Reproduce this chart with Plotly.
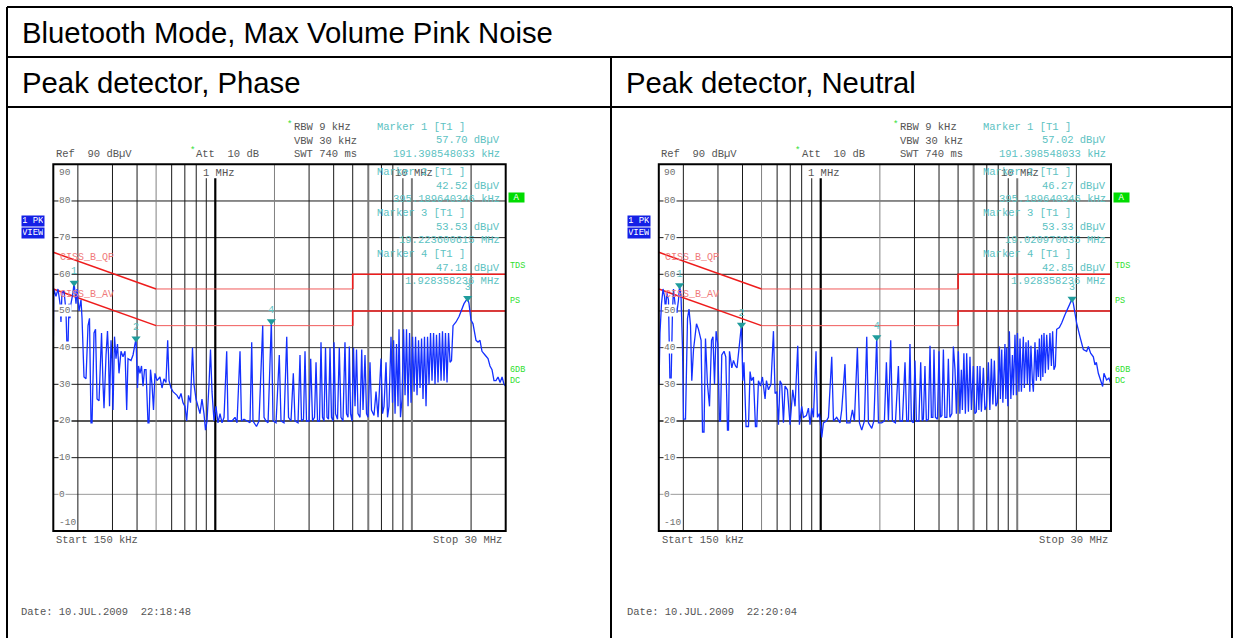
import math
import plotly.graph_objects as go

W, H = 1235, 638
MONO = "Liberation Mono, Courier New, monospace"
SANS = "Liberation Sans, Arial, sans-serif"

# ---------------------------------------------------------------- data
title_text = "Bluetooth Mode, Max Volume Pink Noise"
panel_titles = ["Peak detector, Phase", "Peak detector, Neutral"]
panel_dates = ["Date: 10.JUL.2009\u00a0\u00a022:18:48", "Date: 10.JUL.2009\u00a0\u00a022:20:04"]

# Phase line, peak detector (MHz, dBuV)
phase_freq_mhz = [
    0.1500, 0.1508, 0.1548, 0.1585, 0.1623, 0.1641, 0.1660, 0.1700, 0.1740, 0.1761,
    0.1782, 0.1803, 0.1824, 0.1845, 0.1889, 0.1914, 0.1957, 0.1980, 0.2027, 0.2075,
    0.2100, 0.2149, 0.2200, 0.2253, 0.2292, 0.2333, 0.2361, 0.2417, 0.2460, 0.2504,
    0.2563, 0.2639, 0.2685, 0.2717, 0.2782, 0.2830, 0.2864, 0.2898, 0.2949, 0.2984,
    0.3019, 0.3072, 0.3126, 0.3182, 0.3238, 0.3315, 0.3394, 0.3475, 0.3543, 0.3598,
    0.3727, 0.3816, 0.3952, 0.4022, 0.4069, 0.4140, 0.4215, 0.4290, 0.4366, 0.4442,
    0.4547, 0.4600, 0.4682, 0.4765, 0.4850, 0.4935, 0.5052, 0.5230, 0.5358, 0.5484,
    0.5614, 0.5727, 0.5815, 0.5953, 0.6096, 0.6239, 0.6387, 0.6538, 0.6693, 0.6850,
    0.7012, 0.7153, 0.7306, 0.7480, 0.7657, 0.7793, 0.7977, 0.8168, 0.8360, 0.8557,
    0.8761, 0.8916, 0.9075, 0.9291, 0.9455, 0.9622, 0.9851, 1.008, 1.032, 1.057,
    1.082, 1.108, 1.143, 1.161, 1.216, 1.260, 1.290, 1.336, 1.359, 1.400,
    1.450, 1.502, 1.532, 1.555, 1.620, 1.669, 1.743, 1.770, 1.812, 1.855,
    1.928, 1.967, 2.037, 2.116, 2.159, 2.236, 2.309, 2.358, 2.427, 2.494,
    2.544, 2.635, 2.697, 2.745, 2.810, 2.860, 2.911, 2.997, 3.057, 3.123,
    3.197, 3.254, 3.312, 3.389, 3.449, 3.510, 3.573, 3.636, 3.701, 3.766,
    3.833, 3.900, 3.970, 4.017, 4.088, 4.185, 4.273, 4.359, 4.462, 4.567,
    4.650, 4.733, 4.806, 4.874, 4.960, 5.048, 5.137, 5.228, 5.320, 5.447,
    5.557, 5.642, 5.775, 5.878, 5.981, 6.123, 6.231, 6.417, 6.570, 6.726,
    6.966, 7.089, 7.215, 7.386, 7.517, 7.650, 7.830, 7.970, 8.070, 8.210,
    8.350, 8.500, 8.600, 8.750, 8.910, 9.070, 9.230, 9.390, 9.560, 9.730,
    9.900, 10.08, 10.26, 10.44, 10.62, 10.81, 11.00, 11.20, 11.39, 11.59,
    11.80, 12.01, 12.22, 12.44, 12.66, 12.89, 13.11, 13.34, 13.58, 13.82,
    14.07, 14.31, 14.57, 14.82, 15.09, 15.36, 15.63, 15.90, 16.19, 16.77,
    17.37, 17.99, 18.41, 19.22, 19.52, 19.98, 20.46, 21.19, 21.69, 22.20,
    22.73, 23.55, 24.39, 24.96, 25.56, 26.16, 26.77, 27.42, 28.10, 28.75,
    29.42, 30.00,
]
phase_level_dbuv = [
    40, 56, 54, 56, 52, 47, 55, 55.5, 50, 40,
    40.5, 52, 48, 52, 55, 57.7, 52, 56, 50, 53,
    48, 32, 31.5, 46, 48, 19.5, 19.5, 44, 45, 26,
    25.5, 44, 30, 23.5, 38, 44.5, 38, 24, 42, 37,
    23, 43, 37, 41, 33, 39, 37.5, 39, 23, 37,
    36.5, 38, 42.5, 29, 35, 33, 35, 29.5, 34, 34,
    19.5, 19.5, 34, 30, 23, 33, 31, 32, 29, 31.5,
    30.5, 42, 31, 29, 28, 27.5, 27, 26, 27.5, 25,
    24, 20, 27, 25, 40, 30, 26, 24, 22, 26,
    22, 17.5, 20, 30, 39.5, 28, 20, 24, 19.5, 22,
    19.5, 21, 39, 20, 20, 21, 19.5, 39, 20, 20.5,
    20, 19.5, 41.5, 20, 18.5, 20, 46, 21, 20, 19.5,
    47.2, 20, 19.5, 38, 20, 19.5, 43, 21, 20, 33,
    20, 19.5, 38, 20, 20.5, 39, 20, 20, 37, 20,
    21, 36, 20, 20, 41.5, 21, 20, 40, 21, 20.5,
    40, 21, 20, 41.5, 22, 20.5, 40, 21, 20, 41.5,
    22, 21, 40.3, 22, 20, 40, 24, 39.5, 22, 21,
    39.5, 23, 38, 22, 21, 36, 23, 21.5, 28, 21,
    37, 22, 24, 36, 21, 24, 43, 25, 42, 22,
    41, 24, 45, 21, 26, 45, 27, 45, 24, 44,
    25, 43, 28, 43, 27, 42, 29, 42.5, 26, 43,
    24, 43, 30, 44, 31, 44, 30, 43.5, 30.5, 44,
    31, 44.5, 31, 44, 30.5, 44, 36, 36.5, 46, 47,
    48.5, 50.5, 52, 53.5, 52, 47.5, 46.5, 42, 41.5, 42,
    39, 38, 37, 35, 34, 31, 31, 32, 30.5, 32,
    30, 29.5,
]

# Neutral line, peak detector (MHz, dBuV)
neutral_freq_mhz = [
    0.1504, 0.1521, 0.1548, 0.1576, 0.1604, 0.1623, 0.1647, 0.1680, 0.1710, 0.1731,
    0.1761, 0.1782, 0.1814, 0.1853, 0.1889, 0.1914, 0.1946, 0.1980, 0.2003, 0.2051,
    0.2100, 0.2137, 0.2175, 0.2208, 0.2253, 0.2295, 0.2333, 0.2388, 0.2462, 0.2504,
    0.2548, 0.2592, 0.2653, 0.2717, 0.2782, 0.2830, 0.2881, 0.2935, 0.2994, 0.3054,
    0.3090, 0.3137, 0.3222, 0.3288, 0.3354, 0.3394, 0.3434, 0.3528, 0.3598, 0.3684,
    0.3750, 0.3952, 0.4013, 0.4069, 0.4117, 0.4170, 0.4290, 0.4370, 0.4442, 0.4547,
    0.4655, 0.4726, 0.4821, 0.4935, 0.5052, 0.5210, 0.5295, 0.5421, 0.5582, 0.5748,
    0.5857, 0.5975, 0.6095, 0.6210, 0.6334, 0.6461, 0.6584, 0.6771, 0.6981, 0.7205,
    0.7402, 0.7640, 0.7793, 0.8005, 0.8168, 0.8460, 0.8660, 0.8824, 0.9002, 0.9183,
    0.9466, 0.9622, 0.9851, 1.012, 1.032, 1.069, 1.095, 1.138, 1.161, 1.206,
    1.254, 1.279, 1.329, 1.356, 1.410, 1.450, 1.484, 1.537, 1.574, 1.617,
    1.669, 1.715, 1.749, 1.818, 1.865, 1.928, 1.967, 2.044, 2.109, 2.159,
    2.211, 2.271, 2.316, 2.400, 2.485, 2.532, 2.605, 2.685, 2.739, 2.794,
    2.846, 2.893, 2.961, 3.018, 3.068, 3.159, 3.227, 3.284, 3.330, 3.392,
    3.449, 3.531, 3.599, 3.657, 3.722, 3.770, 3.833, 3.926, 3.999, 4.065,
    4.137, 4.209, 4.284, 4.385, 4.462, 4.542, 4.650, 4.733, 4.823, 4.902,
    5.018, 5.106, 5.197, 5.259, 5.352, 5.447, 5.530, 5.642, 5.748, 5.844,
    5.981, 6.087, 6.195, 6.268, 6.380, 6.462, 6.570, 6.726, 6.845, 6.966,
    7.130, 7.256, 7.386, 7.517, 7.650, 7.785, 7.920, 8.120, 8.210, 8.340,
    8.450, 8.660, 8.750, 8.840, 8.960, 9.120, 9.280, 9.450, 9.560, 9.740,
    9.900, 10.02, 10.20, 10.33, 10.50, 10.74, 10.87, 11.08, 11.26, 11.39,
    11.59, 11.74, 11.94, 12.08, 12.31, 12.51, 12.66, 12.81, 12.96, 13.16,
    13.31, 13.50, 13.68, 13.90, 14.12, 14.40, 14.67, 14.92, 15.14, 15.37,
    15.63, 15.87, 16.38, 16.83, 17.49, 18.20, 19.02, 19.30, 20.06, 20.85,
    21.69, 22.55, 23.01, 23.63, 24.39, 24.86, 25.27, 25.86, 26.35, 27.20,
    27.62, 28.50, 29.28, 30.00,
]
neutral_level_dbuv = [
    30, 44, 52, 56, 54, 50, 55, 53, 30, 29.5,
    50, 56, 52, 49.5, 53, 57.0, 54, 40, 20.5, 20.5,
    48, 50.5, 46, 31, 39.5, 44, 46.5, 45, 42, 17,
    17, 42.5, 30, 24, 42, 43, 30, 44.5, 41, 20,
    20, 38, 39, 37.5, 17.5, 17.5, 39, 34.5, 36.5, 35,
    34.5, 46.3, 31, 36, 27.5, 18.5, 18.5, 33.5, 31, 32,
    18.5, 18.5, 31, 29.5, 32, 26, 31, 28.5, 30, 44.5,
    27.5, 28, 19, 31, 30, 19.5, 29.5, 28.5, 19, 28.5,
    24, 40.5, 19, 24, 21, 21.5, 23.5, 19, 23.5, 21,
    39, 21, 22, 15.5, 19.5, 20, 21, 37.5, 20, 21,
    19.5, 23, 35.5, 19.5, 19.5, 23, 20, 40, 19.5, 17.5,
    20, 43, 19.5, 18, 20, 42.9, 19.5, 19.5, 20, 36,
    20, 42, 20, 19.5, 35, 20, 20, 36, 20, 20,
    41, 20, 19.5, 36.5, 20, 20, 36, 20, 20.5, 35,
    20, 20.5, 40.5, 21, 21, 39.5, 21, 20.5, 39, 21,
    21.5, 39.5, 21, 21, 37, 21, 22, 40.3, 34, 22,
    39, 22, 34, 23, 38.5, 22, 38.5, 22.5, 37.5, 23,
    35, 22, 22.5, 35, 23, 35, 22.5, 34.5, 23, 24,
    36, 23, 37, 24.5, 36.5, 24, 25, 40.3, 26, 39.5,
    25, 41, 26, 40, 24, 44.5, 26, 38, 27, 43.5,
    27, 44, 28, 42.5, 28, 43, 29, 41.5, 30, 42,
    28, 40.5, 31, 28, 41.5, 31, 39.5, 32, 42.5, 31,
    43.5, 32, 44, 33, 43.5, 34, 44, 35, 44.5, 34,
    35, 45, 45.5, 46.7, 49, 51.2, 53.3, 52, 46.7, 43,
    39.5, 39, 40.3, 38.5, 37.5, 35.3, 36, 33, 31.7, 29.4,
    33, 31.2, 31.7, 30,
]

# Class B conducted limit lines
limit_freq_mhz = [0.15, 0.5, 5.0, 5.0, 30.0]
limit_qp_dbuv = [66, 56, 56, 60, 60]
limit_av_dbuv = [56, 46, 46, 50, 50]

marker_ids = ["1", "2", "3", "4"]
phase_marker_freq_mhz = [0.191398548033, 0.395189640346, 19.223600615, 1.928358236]
phase_marker_dbuv = [57.70, 42.52, 53.53, 47.18]
neutral_marker_freq_mhz = [0.191398548033, 0.395189640346, 19.020970635, 1.928358236]
neutral_marker_dbuv = [57.02, 46.27, 53.33, 42.85]

grid_freq_mhz = [0.2, 0.3, 0.4, 0.5, 0.6, 0.7, 0.8, 0.9, 1, 2, 3, 4, 5, 6, 7, 8, 9, 10, 20]
grid_level_dbuv = [80, 70, 60, 50, 40, 30, 20, 10, 0]
level_tick_labels = ["90", "80", "70", "60", "50", "40", "30", "20", "10", "0", "-10"]
level_tick_values = [90, 80, 70, 60, 50, 40, 30, 20, 10, 0, -10]

F_START, F_STOP = 0.15, 30.0
L_MIN, L_MAX = -10, 90

# ---------------------------------------------------------------- layout helpers
def px(x):
    return x / W


def py(y):
    return 1 - y / H


Y_TOP, Y_BOT = 164.3, 531.0
panels = [
    dict(left=53.3, right=505.7, xa="x", ya="y", title=panel_titles[0], date=panel_dates[0],
         freq=phase_freq_mhz, level=phase_level_dbuv,
         mk_f=phase_marker_freq_mhz, mk_v=phase_marker_dbuv),
    dict(left=658.8, right=1111.0, xa="x2", ya="y2", title=panel_titles[1], date=panel_dates[1],
         freq=neutral_freq_mhz, level=neutral_level_dbuv,
         mk_f=neutral_marker_freq_mhz, mk_v=neutral_marker_dbuv),
]

TEXT_GRAY = "#555555"
TEAL = "#5cc2c2"
TEAL_DARK = "#1f9c9c"
GREEN = "#2ee02e"
RED = "#ee1c1c"
RED_LIGHT = "#f05a5a"
BLUE = "#1430ff"

fig = go.Figure()
shapes = []
annotations = []


def label(text, x, y, size=10.5, color=TEXT_GRAY, anchor="left", family=MONO, **kw):
    d = dict(text=text, x=px(x), y=py(y), xref="paper", yref="paper",
             xanchor=anchor, yanchor="middle", showarrow=False,
             font=dict(family=family, size=size, color=color))
    d.update(kw)
    annotations.append(d)


def fmt_freq(f_mhz):
    if f_mhz < 1:
        return f"{f_mhz * 1000:.9f} kHz"
    return f"{f_mhz:.9f} MHz"


NB = "\u00a0"

for i, p in enumerate(panels):
    L = p["left"]
    xa, ya = p["xa"], p["ya"]
    xname = "xaxis" if i == 0 else "xaxis2"
    yname = "yaxis" if i == 0 else "yaxis2"
    fig.layout[xname] = dict(domain=[px(L), px(p["right"])], type="log",
                             range=[math.log10(F_START), math.log10(F_STOP)],
                             visible=False, anchor=ya)
    fig.layout[yname] = dict(domain=[py(Y_BOT), py(Y_TOP)], range=[L_MIN, L_MAX],
                             visible=False, anchor=xa)

    # horizontal graticule
    for lv in grid_level_dbuv:
        col, wid = "#1a1a1a", 1
        if lv == 20:
            col, wid = "#555555", 2
        elif lv == 0:
            col, wid = "#9a9a9a", 1
        elif lv in (50, 40):
            col = "#333333"
        shapes.append(dict(type="line", xref=xa, yref=ya, x0=F_START, x1=F_STOP,
                           y0=lv, y1=lv, layer="below", line=dict(color=col, width=wid)))
    # vertical graticule
    for f in grid_freq_mhz:
        col, wid, top = "#1a1a1a", 1, L_MAX
        if f in (1,):
            col, wid = "#000000", 2.2
        elif f in (10, 6):
            col, wid = "#7a7a7a", 2
        elif f in (0.5, 2):
            col = "#808080"
        if f in (0.9, 1, 9, 10):
            top = 86.2
        shapes.append(dict(type="line", xref=xa, yref=ya, x0=f, x1=f, y0=L_MIN, y1=top,
                           layer="below", line=dict(color=col, width=wid)))
    # frame
    shapes.append(dict(type="rect", xref=f"{xa} domain", yref=f"{ya} domain",
                       x0=0, x1=1, y0=0, y1=1, layer="above",
                       line=dict(color="#000000", width=2)))

    # limit lines: sloped part, flat part, and the step above 5 MHz
    for lim in (limit_qp_dbuv, limit_av_dbuv):
        for seg, col, wid in ((slice(0, 2), RED, 1.5), (slice(1, 3), RED_LIGHT, 1.0),
                              (slice(2, 5), RED, 1.6)):
            fig.add_trace(go.Scatter(x=limit_freq_mhz[seg], y=lim[seg], mode="lines",
                                     xaxis=xa, yaxis=ya, line=dict(color=col, width=wid),
                                     hoverinfo="skip", showlegend=False))
    # measured trace
    fig.add_trace(go.Scatter(x=p["freq"], y=p["level"], mode="lines", xaxis=xa, yaxis=ya,
                             line=dict(color=BLUE, width=1.3), showlegend=False))
    # markers
    fig.add_trace(go.Scatter(x=p["mk_f"], y=p["mk_v"], mode="markers+text", xaxis=xa, yaxis=ya,
                             text=marker_ids, textposition="top center",
                             textfont=dict(family=MONO, size=10, color=TEAL),
                             marker=dict(symbol="triangle-down", size=8, color=TEAL_DARK),
                             cliponaxis=False, showlegend=False))

    # level labels inside the graticule
    for val, txt in zip(level_tick_values, level_tick_labels):
        ys = 0
        if val == L_MAX:
            ys = -8
        elif val == L_MIN:
            ys = 9
        annotations.append(dict(text=txt, xref=f"{xa} domain", yref=ya,
                                x=4.5 / (p["right"] - L), y=val, yshift=ys,
                                xanchor="left", yanchor="middle", showarrow=False,
                                bgcolor="white" if val not in (L_MAX, L_MIN) else None,
                                borderpad=0,
                                font=dict(family=MONO, size=9.5, color="#707070")))

    # header settings
    label(f"Ref{NB}{NB}90 dB\u00b5V", L + 0.5, 154)
    label("*", L + 134.5, 151.5, size=9, color=GREEN)
    label(f"Att{NB}{NB}10 dB", L + 141, 154)
    label("*", L + 231.8, 124.5, size=9, color=GREEN)
    label("RBW 9 kHz", L + 239, 127)
    label("VBW 30 kHz", L + 239, 140.5)
    label("SWT 740 ms", L + 239, 154)
    label("1 MHz", L + 147.5, 172.5)
    label("10 MHz", L + 340, 172.5)

    # marker readouts
    mk_rows = [126.7, 172.3, 213.3, 254.3]
    for k, mid in enumerate(marker_ids):
        y0 = mk_rows[k]
        label(f"Marker {mid} [T1 ]", L + 322, y0, color=TEAL)
        label(f"{p['mk_v'][k]:.2f} dB\u00b5V", L + 449, y0 + 13.5, color=TEAL, anchor="right")
        label(fmt_freq(p["mk_f"][k]), L + 449, y0 + 27, color=TEAL, anchor="right")

    # status annotations on the right side
    label("A", L + 462.8, 197, size=9, color="white", anchor="center",
          bgcolor="#00dc00", width=13, height=7, borderpad=1)
    label("TDS", L + 454.5, 265.5, size=8.5, color=GREEN)
    label("PS", L + 454.5, 300.5, size=8.5, color=GREEN)
    label("6DB", L + 454.5, 369.5, size=8.5, color=GREEN)
    label("DC", L + 454.5, 381, size=8.5, color=GREEN)
    # trace badge on the left
    label("1 PK", L - 20.2, 221.3, size=9, color="white", anchor="center",
          bgcolor="#1420e6", width=20, height=8, borderpad=1)
    label("VIEW", L - 20.2, 233, size=9, color="white", anchor="center",
          bgcolor="#1420e6", width=20, height=8, borderpad=1)

    # limit line names
    label("CISS_B_QP", L + 4.5, 257, size=10, color="#f07a7a")
    label("CISS_B_AV", L + 4.5, 294, size=10, color="#f07a7a")

    # span and date
    label("Start 150 kHz", L + 1, 540)
    label("Stop 30 MHz", L + 451, 540, anchor="right")
    label(p["date"], L - 34, 612)

# table frame
BLACK = "#000000"
for (x0, y0, x1, y1) in [(7, 7, 1232, 7), (7, 57, 1232, 57), (7, 107, 1232, 107),
                         (7, 7, 7, 638), (1232, 7, 1232, 638), (611, 57, 611, 638)]:
    shapes.append(dict(type="line", xref="paper", yref="paper", x0=px(x0), x1=px(x1),
                       y0=py(y0), y1=py(y1), layer="above", line=dict(color=BLACK, width=2)))

label(title_text, 19.5, 32.5, size=29.3, color="#000000", family=SANS)
label(panel_titles[0], 19.5, 82.5, size=29.3, color="#000000", family=SANS)
label(panel_titles[1], 623.8, 82.5, size=29.3, color="#000000", family=SANS)

fig.update_layout(
    width=W, height=H, margin=dict(l=0, r=0, t=0, b=0),
    paper_bgcolor="white", plot_bgcolor="white",
    shapes=shapes, annotations=annotations, showlegend=False,
)

fig.write_html("out.html")
